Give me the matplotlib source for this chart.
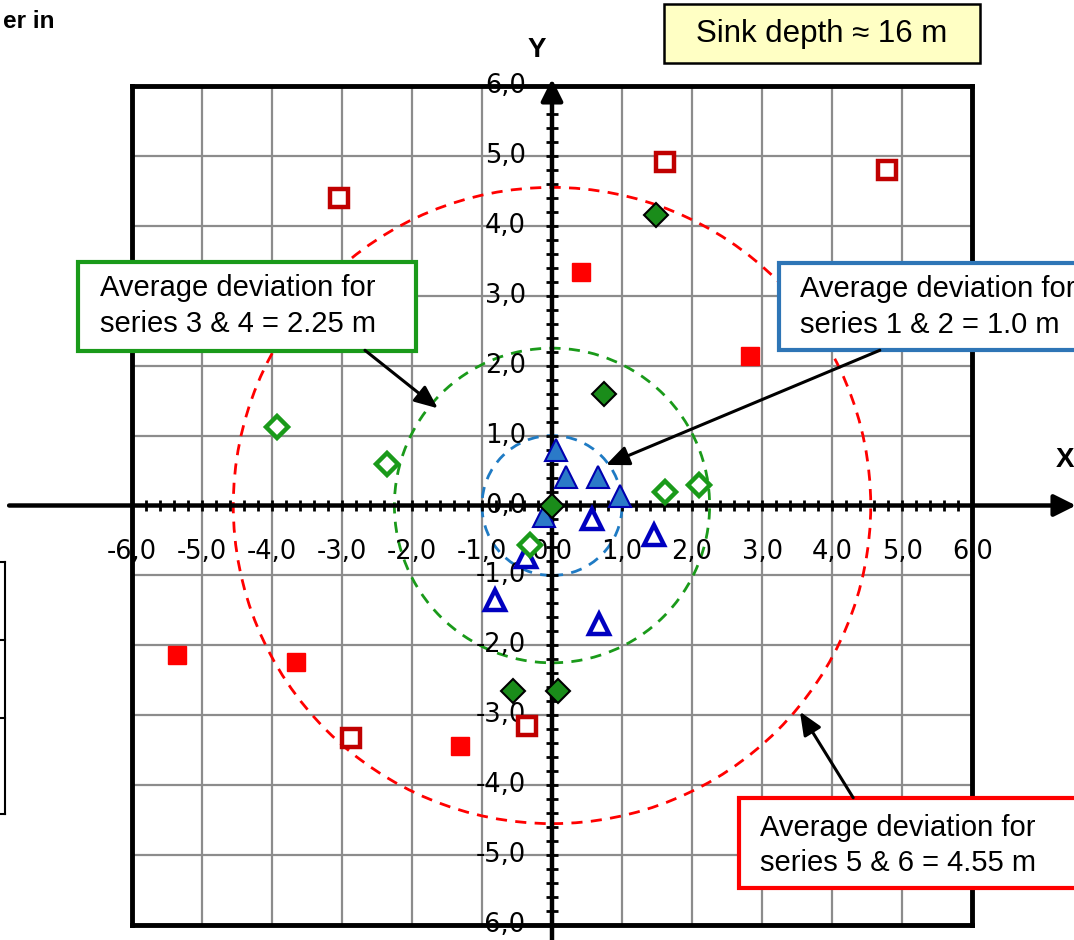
import numpy as np
import matplotlib
matplotlib.use("Agg")
import matplotlib.pyplot as plt
from matplotlib.patches import Rectangle, Circle

# series 1 & 2: triangles (filled / hollow)
s1_x = [0.05, 0.20, 0.65, 0.97, -0.12]
s1_y = [0.80, 0.41, 0.41, 0.14, -0.15]
s2_x = [0.57, 1.45, -0.37, -0.82, 0.67]
s2_y = [-0.19, -0.42, -0.73, -1.35, -1.70]
# series 3 & 4: diamonds
s3_x = [1.49, 0.74, 0.0, -0.55, 0.08]
s3_y = [4.15, 1.59, 0.0, -2.66, -2.66]
s4_x = [-3.92, -2.35, 1.62, 2.10, -0.31]
s4_y = [1.12, 0.59, 0.19, 0.29, -0.56]
# series 5 & 6: squares
s5_x = [0.42, 2.82, -5.36, -3.66, -1.32]
s5_y = [3.34, 2.14, -2.14, -2.24, -3.44]
s6_x = [-3.04, 1.61, 4.78, -2.87, -0.35]
s6_y = [4.40, 4.91, 4.80, -3.32, -3.15]

# average deviation radii (m)
r_12 = 1.0
r_34 = 2.25
r_56 = 4.55

ticks = np.arange(-6, 7)

W, H = 1074, 940
fig = plt.figure(figsize=(W / 100, H / 100), dpi=100)
ax = fig.add_axes([131.7 / W, 1 - 925 / H, 840.6 / W, 839 / H])
ax.set_xlim(-6, 6)
ax.set_ylim(-6, 6)
ax.set_xticks(ticks)
ax.set_yticks(ticks)
ax.tick_params(length=0, labelbottom=False, labelleft=False)
ax.grid(True, color="#8c8c8c", lw=1.6, zorder=0)
ax.set_axisbelow(True)
for sp in ax.spines.values():
    sp.set_linewidth(3.5)

# axes through the origin, with arrows
arrow_kw = dict(arrowstyle="-|>,head_length=0.6,head_width=0.3", lw=3.2, color="black",
                mutation_scale=22, shrinkA=0, shrinkB=0)
ax.annotate("", xy=(7.48, 0), xytext=(-7.75, 0), arrowprops=arrow_kw,
            annotation_clip=False, zorder=3)
ax.annotate("", xy=(0, 6.1), xytext=(0, -6.3), arrowprops=arrow_kw,
            annotation_clip=False, zorder=3)

# minor ticks crossing the axes
minor = np.arange(-6, 6.001, 0.2)
ax.vlines(minor, -0.085, 0.085, color="black", lw=2, zorder=3, clip_on=False)
ax.hlines(minor, -0.085, 0.085, color="black", lw=2, zorder=3, clip_on=False)

lbl = dict(fontsize=18.5, family="DejaVu Sans", zorder=4, clip_on=False)
for v in ticks:
    s = f"{v:.1f}".replace(".", ",")
    ax.text(v, -0.67, s, ha="center", va="center", **lbl)
    ax.text(-0.37, v, s, ha="right", va="center", **lbl)

ax.text(-0.22, 6.52, "Y", ha="center", va="center", fontsize=20, fontweight="bold",
        family="Liberation Sans", clip_on=False)
ax.text(7.33, 0.65, "X", ha="center", va="center", fontsize=20, fontweight="bold",
        family="Liberation Sans", clip_on=False)

# dashed deviation circles
for r, c in [(r_12, "#1f7bc4"), (r_34, "#1a9a1a"), (r_56, "#ff0000")]:
    ax.add_patch(Circle((0, 0), r, fill=False, ec=c, lw=2, ls=(0, (4, 3)), zorder=2))

ax.plot(s1_x, s1_y, "^", ms=16, mfc="#2b7ac8", mec="#0000b0", mew=1.5, ls="none", zorder=5)
ax.plot(s2_x, s2_y, "^", ms=15, mfc="white", mec="#0000c0", mew=3.2, ls="none", zorder=5)
ax.plot(s3_x, s3_y, "D", ms=12, mfc="#1a8c1a", mec="black", mew=1.5, ls="none", zorder=5)
ax.plot(s4_x, s4_y, "D", ms=11.5, mfc="white", mec="#1a9a1a", mew=3.2, ls="none", zorder=5)
ax.plot(s5_x, s5_y, "s", ms=13.5, mfc="#ff0000", mec="#ff0000", mew=1, ls="none", zorder=5)
ax.plot(s6_x, s6_y, "s", ms=13, mfc="white", mec="#c00000", mew=3.2, ls="none", zorder=5)

# annotation boxes
def note(x0, y0, x1, y1, ec, lines, tx, ty, fc="white", lw=3):
    ax.add_patch(Rectangle((x0, y1), x1 - x0, y0 - y1, fc=fc, ec=ec, lw=lw,
                           zorder=6, clip_on=False))
    for t, yy in zip(lines, ty):
        ax.text(tx, yy, t, ha="left", va="center", fontsize=21,
                family="Liberation Sans", zorder=7, clip_on=False)

note(-6.77, 3.48, -1.94, 2.21, "#1a9a1a",
     ["Average deviation for", "series 3 & 4 = 2.25 m"], -6.45, [3.11, 2.59])
note(3.24, 3.47, 7.9, 2.22, "#2e75b6",
     ["Average deviation for", "series 1 & 2 = 1.0 m"], 3.54, [3.09, 2.58])
note(2.67, -4.18, 7.9, -5.47, "#ff0000",
     ["Average deviation for", "series 5 & 6 = 4.55 m"], 2.97, [-4.61, -5.11])

ax.add_patch(Rectangle((1.6, 6.33), 4.51, 0.84, fc="#ffffc4", ec="black", lw=1.8,
                       zorder=6, clip_on=False))
ax.text(3.85, 6.75, "Sink depth \u2248 16 m", ha="center", va="center", fontsize=22.5,
        family="Liberation Sans", zorder=7, clip_on=False)

pointer = dict(arrowstyle="-|>,head_length=0.7,head_width=0.3", lw=2.2, color="black",
               mutation_scale=20, shrinkA=0, shrinkB=0)
ax.annotate("", xy=(-1.63, 1.39), xytext=(-2.67, 2.22), arrowprops=pointer, zorder=8)
ax.annotate("", xy=(0.77, 0.58), xytext=(4.68, 2.22), arrowprops=pointer, zorder=8)
ax.annotate("", xy=(3.54, -2.95), xytext=(4.30, -4.18), arrowprops=pointer, zorder=8)

# pieces of neighbouring content at the figure edges
fig.text(3 / W, 1 - 22 / H, "er in", ha="left", va="center", fontsize=17.5,
         fontweight="bold", family="Liberation Sans")
for yy in [562, 640, 718, 814]:
    fig.add_artist(plt.Line2D([0, 5 / W], [1 - yy / H] * 2, color="black", lw=1.5))
fig.add_artist(plt.Line2D([5 / W] * 2, [1 - 562 / H, 1 - 814 / H], color="black", lw=1.5))

fig.savefig("out.png", dpi=100)
